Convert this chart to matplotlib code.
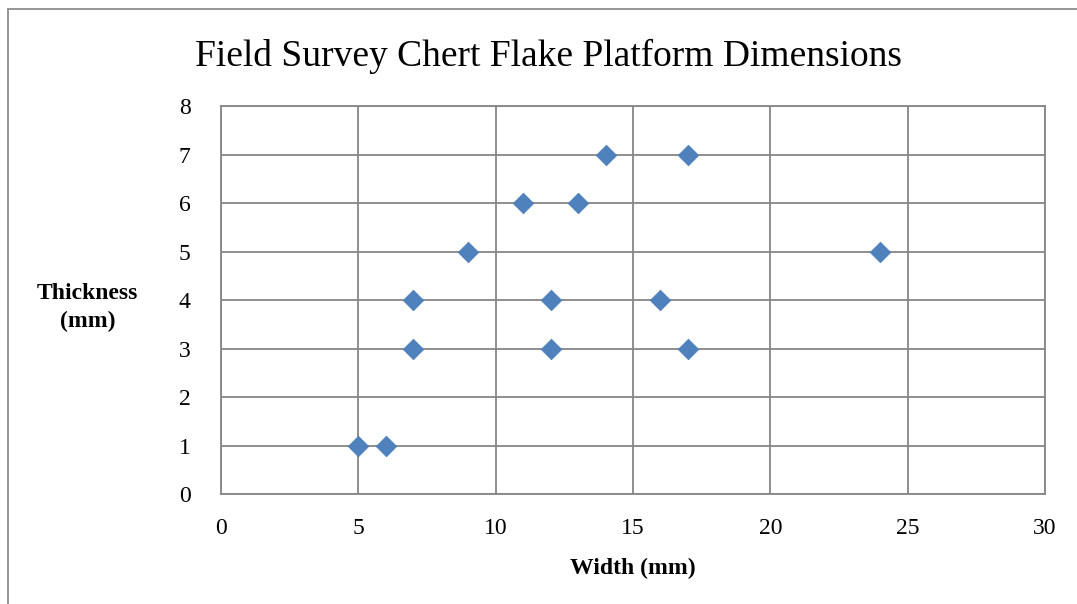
import matplotlib.pyplot as plt
from matplotlib.patches import Rectangle

# platform measurements, mm
width = [5, 6, 7, 7, 9, 11, 12, 12, 13, 14, 17, 16, 17, 24]
thickness = [1, 1, 3, 4, 5, 6, 4, 3, 6, 7, 7, 4, 3, 5]

x_ticks = [0, 5, 10, 15, 20, 25, 30]
y_ticks = [0, 1, 2, 3, 4, 5, 6, 7, 8]

plt.rcParams["font.family"] = ["Liberation Serif", "DejaVu Serif"]
grid_col = "#868686"

fig = plt.figure(figsize=(10.77, 6.04), dpi=100)
ax = fig.add_axes([0.2052, 0.1821, 0.7651, 0.6424])

ax.scatter(width, thickness, marker="D", s=110, color="#4F81BD",
           edgecolors="#4A7EBB", linewidths=0.5, zorder=3, clip_on=False)

ax.set_xlim(0, 30)
ax.set_ylim(0, 8)
ax.set_xticks(x_ticks)
ax.set_yticks(y_ticks)
ax.grid(True, color=grid_col, linewidth=1.3)
ax.set_axisbelow(True)
for s in ax.spines.values():
    s.set_color(grid_col)
    s.set_linewidth(1.3)
ax.tick_params(length=0, labelsize=17)
ax.tick_params(axis="x", pad=17)
ax.tick_params(axis="y", pad=22)

ax.set_xlabel("Width (mm)", fontsize=17, fontweight="bold", labelpad=14)
ax.set_ylabel("Thickness\n(mm)", fontsize=17, fontweight="bold",
              rotation=0, ha="center", va="center", linespacing=1.45)
ax.yaxis.set_label_coords(-0.162, 0.48)

fig.text(0.509, 0.907, "Field Survey Chert Flake Platform Dimensions",
         fontsize=27, ha="center", va="center")

# chart outline
fig.patches.append(Rectangle((8 / 1077, -0.05), 1.2, 1.0 - 9 / 604 + 0.05,
                             transform=fig.transFigure, fill=False,
                             edgecolor="#8c8c8c", linewidth=1.3))

fig.savefig("out.png", dpi=100)
